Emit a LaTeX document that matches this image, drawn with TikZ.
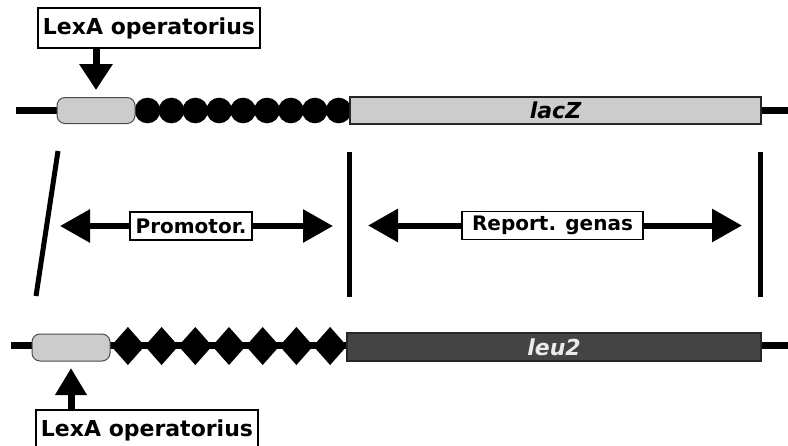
\documentclass[tikz,border=0pt]{standalone}
\usepackage{fontspec}
\setmainfont{DejaVu Sans}
\usetikzlibrary{arrows.meta}
\definecolor{lightg}{HTML}{CCCCCC}
\definecolor{darkg}{HTML}{444444}
\tikzset{
  lblbox/.style={draw=black, line width=1.6pt, fill=white, inner sep=0pt, minimum width=222pt, minimum height=40pt, font=\bfseries\fontsize{22}{26}\selectfont},
  midbox/.style={draw=black, line width=1.5pt, fill=white, inner sep=0pt, minimum height=28pt, font=\bfseries\fontsize{20}{24}\selectfont},
  dna/.style={line width=7pt},
  opbox/.style={draw=black!70, line width=1pt, fill=lightg, rounded corners=8pt, inner sep=0pt, minimum width=78pt, minimum height=26pt},
  genebox/.style={draw=black!85, line width=1.5pt, inner sep=0pt, font=\bfseries\itshape\fontsize{22}{26}\selectfont},
  sep/.style={line width=5pt},
  bigarrow/.style={line width=7pt, -{Triangle[length=26pt,width=32pt]}},
  twoarrow/.style={line width=6pt, -{Triangle[length=30pt,width=32pt]}}
}
\begin{document}
\begin{tikzpicture}[x=1pt,y=-1pt]
\useasboundingbox (0,0) rectangle (788,445);
\clip (0,0) rectangle (788,445);
% ---- top construct ----
\draw[dna] (16,110.5) -- (788,110.5);
\foreach \i in {0,...,8} {
  \fill[black] ({147.5+\i*23.9},110.5) circle (12.8);
}
\node[opbox] (opT) at (96,110.5) {};
\node[genebox, fill=lightg, minimum width=411pt, minimum height=27pt] (lacZ) at (555.5,110.5) {lacZ};
\node[lblbox] (lexT) at (149,28) {LexA operatorius};
\coordinate (tipT) at (96,90);
\draw[bigarrow] (lexT.south -| tipT) -- (tipT);
% ---- bottom construct ----
\draw[dna] (11,345.5) -- (788,345.5);
\foreach \i in {0,...,6} {
  \pgfmathsetmacro{\cx}{127.9+\i*33.7}
  \fill[black] (\cx-16.85,346) -- (\cx,327) -- (\cx+16.85,346) -- (\cx,365) -- cycle;
}
\node[opbox, minimum height=27pt] (opB) at (71,347.5) {};
\node[genebox, fill=darkg, text=black!8, minimum width=414pt, minimum height=28pt] (leu2) at (554,347) {leu2};
\node[lblbox] (lexB) at (147,430) {LexA operatorius};
\coordinate (tipB) at (71,368);
\draw[bigarrow, -{Triangle[length=27pt,width=30pt]}] (lexB.north -| tipB) -- (tipB);
% ---- separators ----
\coordinate (s1a) at (58,151);
\coordinate (s1b) at (36,296);
\coordinate (s2a) at (349,152);
\coordinate (s2b) at (349,297);
\coordinate (s3a) at (760,152);
\coordinate (s3b) at (760,297);
\draw[sep] (s1a) -- (s1b);
\draw[sep] (s2a) -- (s2b);
\draw[sep] (s3a) -- (s3b);
% ---- region arrows ----
\node[midbox, minimum width=122pt] (prom) at (191,226) {Promotor.};
\coordinate (pL) at (60,226);
\coordinate (pR) at (333,226);
\draw[twoarrow] (prom.west) -- (pL);
\draw[twoarrow] (prom.east) -- (pR);
\node[midbox, minimum width=181pt] (rep) at (552.5,225.5) {Report. genas};
\coordinate (rL) at (368,225.5);
\coordinate (rR) at (742,225.5);
\draw[twoarrow] (rep.west) -- (rL);
\draw[twoarrow] (rep.east) -- (rR);
\end{tikzpicture}
\end{document}
